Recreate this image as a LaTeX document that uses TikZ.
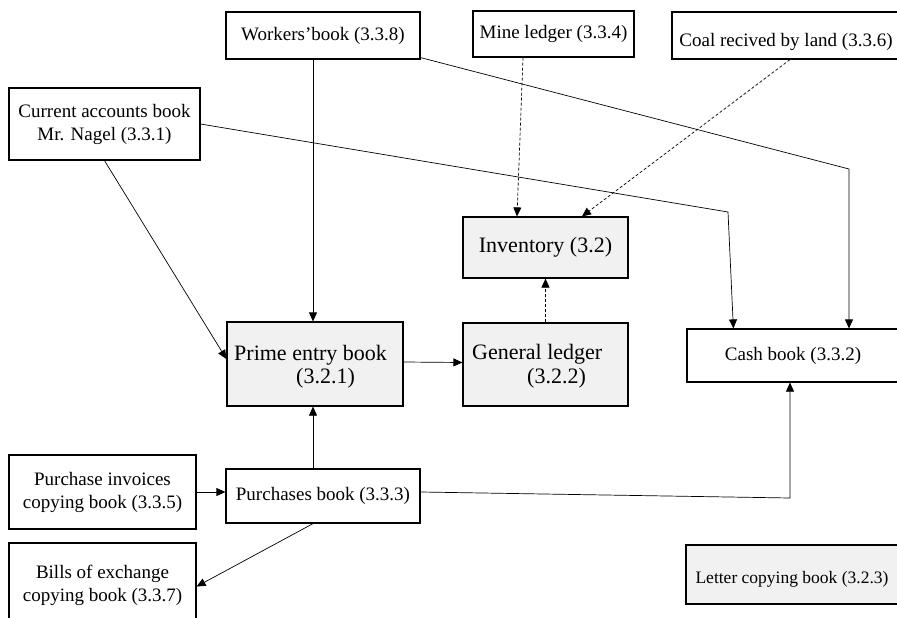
\documentclass[tikz,border=0pt]{standalone}
\usepackage{fontspec}
\setmainfont{Liberation Serif}
\usetikzlibrary{arrows.meta,calc}
\definecolor{boxgrey}{HTML}{F1F1F1}
\begin{document}
\begin{tikzpicture}[x=1pt,y=-1pt,
  box/.style={draw, line width=1.2pt, inner sep=0pt, align=center, font=\fontsize{19}{23}\selectfont},
  txt/.style={inner sep=0pt, align=center, font=\fontsize{19}{23}\selectfont},
  bigtxt/.style={inner sep=0pt, font=\fontsize{22}{24}\selectfont},
  greybox/.style={box, fill=boxgrey},
  conn/.style={line width=0.7pt, -{Triangle[length=9pt,width=8pt]}},
  dconn/.style={conn, dash pattern=on 3pt off 2pt},
]
\clip (0,0) rectangle (897,618);
\fill[white] (0,0) rectangle (897,618);

% boxes
\node[box, minimum width=194pt, minimum height=47pt] (workers) at (323,35.5) {Workers’book (3.3.8)};
\node[box, minimum width=191pt, minimum height=72pt] (current) at (104.5,124) {Current accounts book\\Mr. Nagel (3.3.1)};
\node[box, minimum width=161pt, minimum height=46pt] (mine) at (553.5,34) {Mine ledger (3.3.4)};
\node[box, minimum width=238pt, minimum height=47pt] (coal) at (791,35.5) {};
\node[txt, anchor=base] (coaltext) at (786,47) {Coal recived by land (3.3.6)};
\node[greybox, minimum width=165pt, minimum height=61pt, font=\fontsize{22}{24}\selectfont] (inventory) at (545.5,247.5) {Inventory (3.2)};
\node[greybox, minimum width=176pt, minimum height=84pt] (prime) at (315,364) {};
\node[bigtxt, anchor=base west] (primet1) at (234,360) {Prime entry book};
\node[bigtxt, anchor=base west] (primet2) at (296,383) {(3.2.1)};
\node[greybox, minimum width=165pt, minimum height=83pt] (general) at (545.5,364.5) {};
\node[bigtxt, anchor=base west] (generalt1) at (472,359) {General ledger};
\node[bigtxt, anchor=base west] (generalt2) at (527,383) {(3.2.2)};
\node[box, minimum width=223pt, minimum height=53pt] (cash) at (798.5,355.5) {};
\node[txt, anchor=base] (cashtext) at (793,360) {Cash book (3.3.2)};
\node[box, minimum width=187pt, minimum height=74pt] (pinv) at (102.5,492) {Purchase invoices\\copying book (3.3.5)};
\node[box, minimum width=194pt, minimum height=54pt] (purch) at (323,496) {Purchases book (3.3.3)};
\node[box, minimum width=187pt, minimum height=87pt] (bills) at (102.5,586.5) {};
\node[txt] (billstext) at (102.5,585) {Bills of exchange\\copying book (3.3.7)};
\node[greybox, minimum width=224pt, minimum height=59pt] (letter) at (798,574.5) {};
\node[txt, anchor=base, font=\fontsize{17.5}{21}\selectfont] (lettertext) at (792,583) {Letter copying book (3.2.3)};

% helper coordinates
\coordinate (w1) at (849,169);
\coordinate (c1) at (728,212);
\coordinate (p1) at (790,498);

% connectors
\draw[conn] ([xshift=-10pt]workers.south) -- ([xshift=-2pt]prime.north);
\draw[conn] ([yshift=2pt]workers.south east) -- (w1) -- (w1 |- cash.north);
\draw[conn] (current.east) -- (c1) -- ([xshift=47pt]cash.north west);
\draw[conn] (current.south) -- ([yshift=5pt]prime.west);
\draw[dconn] ([xshift=-30.5pt]mine.south) -- ([xshift=-28.5pt]inventory.north);
\draw[dconn] ([xshift=-1pt]coal.south) -- ([xshift=36.5pt]inventory.north);
\draw[dconn] (general.north) -- (inventory.south);
\draw[conn] ([yshift=2pt]prime.east) -- ([yshift=2pt]general.west);
\draw[conn] ([xshift=-10pt]purch.north) -- ([xshift=-2pt]prime.south);
\draw[conn] (pinv.east) -- (pinv.east -| purch.west);
\draw[conn] ([yshift=4pt]purch.east) -- (p1) -- (p1 |- cash.south);
\draw[conn] ([xshift=-10pt]purch.south) -- (bills.east);
\end{tikzpicture}
\end{document}
